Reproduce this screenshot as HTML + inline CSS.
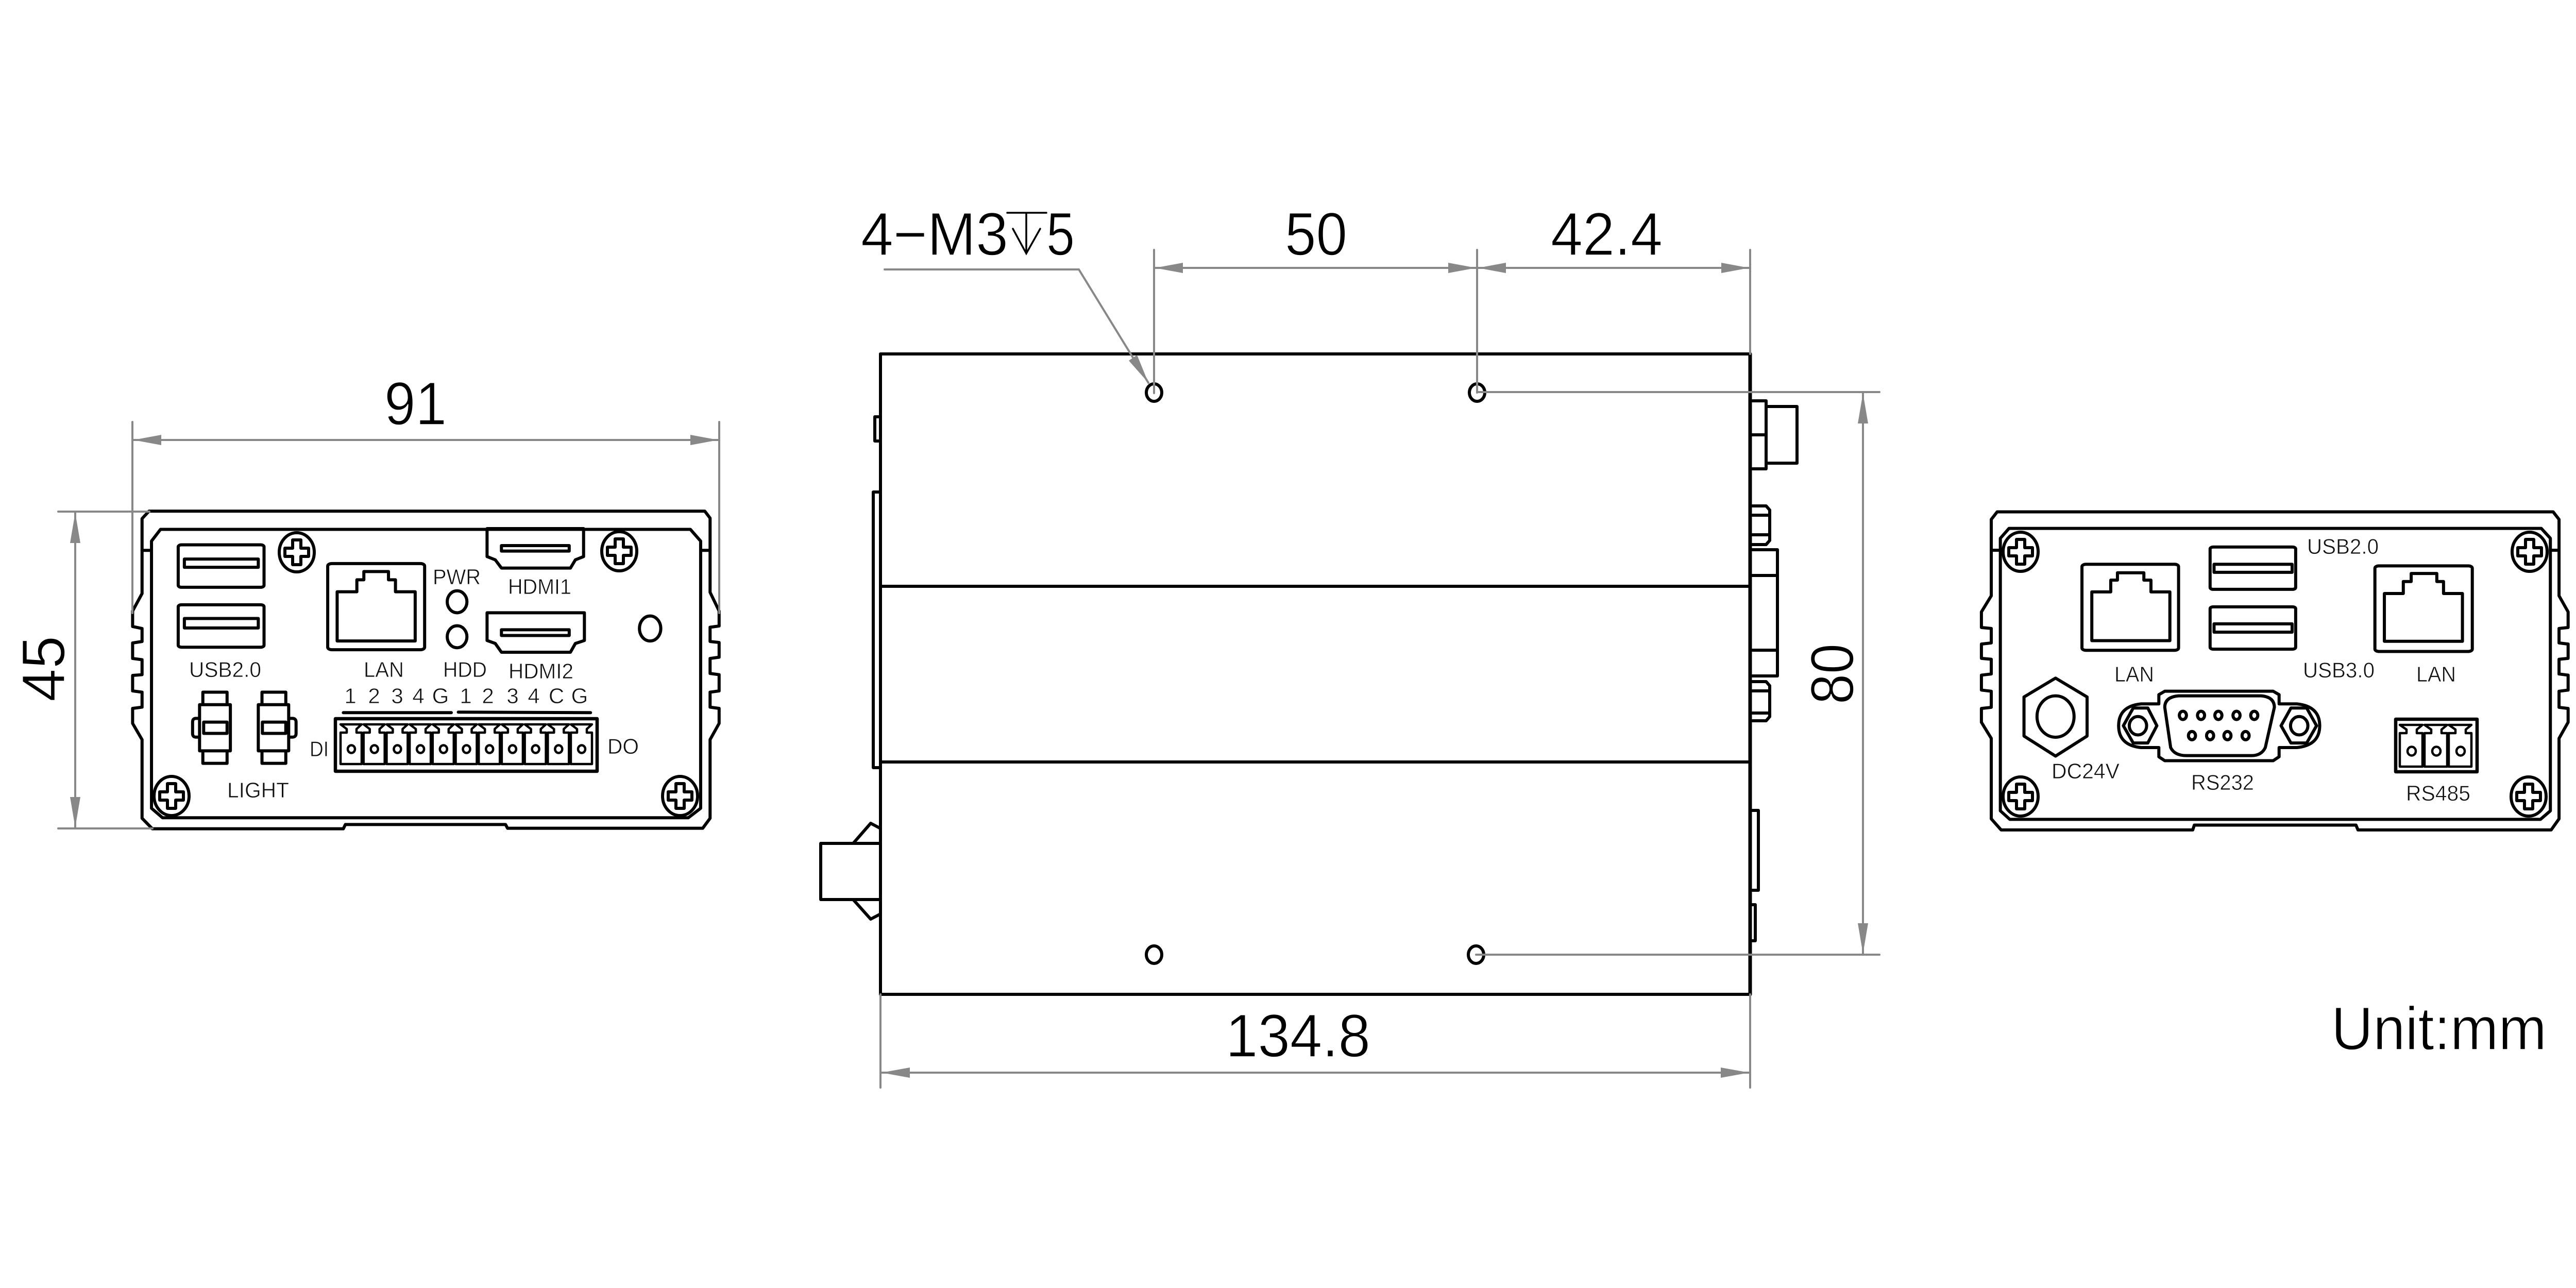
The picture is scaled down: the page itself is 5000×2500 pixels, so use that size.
<!DOCTYPE html>
<html><head><meta charset="utf-8"><title>Dimensions</title>
<style>
html,body{margin:0;padding:0;background:#fff}
svg{display:block}
svg *{vector-effect:non-scaling-stroke}
.k{fill:none;stroke:#000;stroke-width:6;stroke-linejoin:round;stroke-linecap:round}
.g{fill:none;stroke:#888;stroke-width:4;stroke-linecap:round}
.a{fill:#888;stroke:none}
text{font-family:"Liberation Sans",sans-serif;fill:#000}
.s{font-size:42px;fill:#111;stroke:#fff;stroke-width:.7}
.b{font-size:118px;stroke:#fff;stroke-width:1.5}
</style></head><body>
<svg width="5000" height="2500" viewBox="0 0 5000 2500" xmlns="http://www.w3.org/2000/svg">
<defs>
<g id="scr" class="k"><ellipse rx="34" ry="38" class="k"/><path class="k" d="M-8,-24H8V-8H23V8H8V24H-8V8H-23V-8H-8Z"/></g>
<g id="cell"><path class="k" style="stroke-width:4.5" d="M0,77V16H12V9L0,0H41L31,9V16H41V77Z"/><ellipse class="k" style="stroke-width:4.5" cx="21" cy="48" rx="7" ry="7.5"/></g>
<g id="cell2"><path class="k" style="stroke-width:4.5" d="M0,81V16H13V9L0,0H44L33,9V16H44V81Z"/><ellipse class="k" style="stroke-width:4.5" cx="23" cy="51" rx="8" ry="8.5"/></g>
</defs>
<rect width="5000" height="2500" fill="#fff"/>

<!-- LEFT PANEL -->
<g transform="translate(200,900) scale(.7972,.4847)">
<path class="k" d="M112,190H1465L1478,218V515L1500,590V650L1478,655V712L1500,716V775L1478,780V840L1500,845V910L1478,915V975L1500,980V1040L1478,1105V1420L1460,1460H985L980,1445H590L585,1462H120L95,1420V1105L72,1040V980L95,975V915L72,910V848L95,845V785L72,780V718L95,712V660L72,652V590L95,520V220Z"/>
<path class="k" d="M140,263H1430L1455,310V1380L1425,1418H145L118,1380V310Z"/>
<path class="k" d="M95,347H118M1455,347H1478"/>
<rect class="k" x="183" y="325" width="209" height="170" rx="8" ry="8"/>
<rect class="k" x="198" y="382" width="180" height="33"/>
<rect class="k" x="183" y="565" width="209" height="170" rx="8" ry="8"/>
<rect class="k" x="198" y="620" width="180" height="38"/>
<rect class="k" x="547" y="400" width="236" height="345" rx="10" ry="10"/>
<path class="k" d="M570,710V513H618V465H635V432H695V465H712V513H760V710Z"/>
<ellipse class="k" cx="862" cy="553" rx="24" ry="44"/>
<ellipse class="k" cx="862" cy="693" rx="24" ry="44"/>
<ellipse class="k" cx="1332" cy="660" rx="26" ry="50"/>
<path class="k" d="M935,260H1170V372L1150,385L1138,418H970L955,385L935,372Z"/>
<rect class="k" x="970" y="328" width="165" height="22"/>
<path class="k" d="M935,597H1172V708L1150,720L1138,755H970L955,720L935,708Z"/>
<rect class="k" x="970" y="665" width="165" height="23"/>
<path class="k" d="M243,965V915H302V965M235,965H310V1150H235ZM243,1150V1200H302V1150M245,1035H302V1080H245ZM235,1020H226Q218,1020 218,1035V1080Q218,1095 226,1095H235"/>
<path class="k" d="M387,965V915H445V965M378,965H452V1150H378ZM387,1150V1200H445V1150M388,1035H445V1080H388ZM452,1020H461Q470,1020 470,1035V1080Q470,1095 461,1095H452"/>
<path class="k" d="M585,997H848M865,995L1187,997"/>
</g>
<rect class="k" style="stroke-width:6.5" x="651" y="1395" width="508" height="102"/>
<use href="#cell" x="661" y="1406"/><use href="#cell" x="705.7" y="1406"/><use href="#cell" x="750.4" y="1406"/><use href="#cell" x="795.1" y="1406"/><use href="#cell" x="839.8" y="1406"/><use href="#cell" x="884.5" y="1406"/><use href="#cell" x="929.2" y="1406"/><use href="#cell" x="973.9" y="1406"/><use href="#cell" x="1018.6" y="1406"/><use href="#cell" x="1063.3" y="1406"/><use href="#cell" x="1108" y="1406"/>
<use href="#scr" x="576" y="1072"/><use href="#scr" x="1202" y="1070"/><use href="#scr" x="333" y="1545"/><use href="#scr" x="1320" y="1545"/>
<text class="s" x="840" y="1134" textLength="93" lengthAdjust="spacingAndGlyphs">PWR</text>
<text class="s" x="986" y="1153" textLength="123" lengthAdjust="spacingAndGlyphs">HDMI1</text>
<text class="s" x="367" y="1314" textLength="140" lengthAdjust="spacingAndGlyphs">USB2.0</text>
<text class="s" x="706" y="1314" textLength="78" lengthAdjust="spacingAndGlyphs">LAN</text>
<text class="s" x="860" y="1314" textLength="85" lengthAdjust="spacingAndGlyphs">HDD</text>
<text class="s" x="987" y="1317" textLength="126" lengthAdjust="spacingAndGlyphs">HDMI2</text>
<text class="s" x="601" y="1468" textLength="37" lengthAdjust="spacingAndGlyphs">DI</text>
<text class="s" x="1179" y="1463" textLength="61" lengthAdjust="spacingAndGlyphs">DO</text>
<text class="s" x="441" y="1548" textLength="120" lengthAdjust="spacingAndGlyphs">LIGHT</text>
<g text-anchor="middle">
<text class="s" x="680" y="1365">1</text><text class="s" x="726" y="1365">2</text><text class="s" x="771" y="1365">3</text><text class="s" x="812" y="1365">4</text><text class="s" x="855" y="1365">G</text><text class="s" x="904" y="1365">1</text><text class="s" x="947" y="1365">2</text><text class="s" x="995" y="1365">3</text><text class="s" x="1036" y="1365">4</text><text class="s" x="1080" y="1365">C</text><text class="s" x="1125" y="1365">G</text>
</g>

<!-- MIDDLE BODY -->
<rect class="k" x="1709" y="687" width="1688" height="1243"/>
<path class="k" d="M1709,1138H3397M1709,1479H3397"/>
<path class="k" d="M1709,809H1698V856H1709M1709,955H1695V1490H1709"/>
<path class="k" style="stroke-width:6" d="M1593,1637H1709V1746H1593ZM1656,1637L1690,1598L1709,1608M1656,1746L1690,1784L1709,1774"/>
<path class="k" d="M3397,778H3428V910H3397M3397,844H3428M3428,789H3488V899H3428"/>
<path class="k" d="M3397,982H3428L3435,990V1049L3428,1057H3397M3397,1000H3435M3397,1038H3435"/>
<path class="k" d="M3397,1067H3450V1312H3397M3397,1117H3450M3397,1262H3450"/>
<path class="k" d="M3397,1323H3428L3435,1331V1391L3428,1399H3397M3397,1341H3435M3397,1384H3435"/>
<path class="k" d="M3397,1573H3413V1728H3397M3397,1756H3407V1826H3397"/>
<ellipse class="k" cx="2240" cy="762" rx="15" ry="17"/>
<ellipse class="k" cx="2867" cy="762" rx="15" ry="17"/>
<ellipse class="k" cx="2240" cy="1853" rx="15" ry="17"/>
<ellipse class="k" cx="2865" cy="1853" rx="15" ry="17"/>
<path class="k" style="stroke-width:7" d="M3397,687V1930"/>
<path class="k" style="stroke-width:6" d="M1709,687V1930"/>

<!-- RIGHT PANEL -->
<g transform="translate(3800,960) scale(.7653,.4464)">
<path class="k" d="M100,75H1510L1525,108V440L1548,510V578L1525,582V645L1548,650V712L1525,716V780L1548,785V850L1525,855V925L1548,930V990L1525,1060V1410L1505,1458H1015L1010,1437H600L596,1458H110L85,1410V1060L60,990V930L85,925V855L60,850V785L85,780V716L60,712V650L85,645V582L60,578V510L85,440V108Z"/>
<path class="k" d="M130,147H1480L1503,190V1375L1478,1412H132L108,1375V190Z"/>
<path class="k" d="M85,242H108M1503,242H1525"/>
<rect class="k" x="315" y="303" width="245" height="374" rx="10" ry="10"/>
<path class="k" d="M340,635V423H388V372H405V340H472V372H490V423H538V635Z"/>
<rect class="k" x="1058" y="310" width="247" height="372" rx="10" ry="10"/>
<path class="k" d="M1082,638V430H1130V378H1150V343H1215V378H1232V430H1280V638Z"/>
<rect class="k" x="640" y="228" width="217" height="184" rx="8" ry="8"/>
<rect class="k" x="650" y="303" width="198" height="35"/>
<rect class="k" x="640" y="488" width="217" height="184" rx="8" ry="8"/>
<rect class="k" x="650" y="562" width="198" height="36"/>
<path class="k" d="M248,798L328,880V1050L248,1137L168,1050V880Z"/>
<ellipse class="k" cx="248" cy="965" rx="47" ry="90"/>
<path class="k" d="M525,855H800L815,870V910H860Q918,920 918,1005Q918,1090 860,1100H815V1140L800,1157H525L510,1140V1100H465Q408,1090 408,1005Q408,920 465,910H510V870Z"/>
<path class="k" d="M560,875H770Q803,880 803,925L780,1100Q770,1135 745,1135H580Q550,1135 540,1100L525,925Q525,880 560,875Z"/>
<path class="k" d="M445,928H482L505,1005L482,1080H445L420,1005Z"/>
<ellipse class="k" cx="457" cy="1005" rx="22" ry="40"/>
<path class="k" d="M845,928H885L910,1005L885,1080H845L820,1005Z"/>
<ellipse class="k" cx="866" cy="1005" rx="22" ry="40"/>
<ellipse class="k" cx="571" cy="960" rx="9" ry="18"/><ellipse class="k" cx="617" cy="960" rx="9" ry="18"/><ellipse class="k" cx="661" cy="960" rx="9" ry="18"/><ellipse class="k" cx="707" cy="960" rx="9" ry="18"/><ellipse class="k" cx="752" cy="960" rx="9" ry="18"/>
<ellipse class="k" cx="594" cy="1048" rx="9" ry="18"/><ellipse class="k" cx="640" cy="1048" rx="9" ry="18"/><ellipse class="k" cx="684" cy="1048" rx="9" ry="18"/><ellipse class="k" cx="730" cy="1048" rx="9" ry="18"/>
</g>
<rect class="k" style="stroke-width:6.5" x="4650" y="1396" width="158" height="102"/>
<use href="#cell2" x="4658" y="1407"/><use href="#cell2" x="4706" y="1407"/><use href="#cell2" x="4753" y="1407"/>
<use href="#scr" x="3922" y="1071"/><use href="#scr" x="4910" y="1071"/><use href="#scr" x="3922" y="1546"/><use href="#scr" x="4908" y="1546"/>
<text class="s" x="4478" y="1075" textLength="139" lengthAdjust="spacingAndGlyphs">USB2.0</text>
<text class="s" x="4470" y="1315" textLength="139" lengthAdjust="spacingAndGlyphs">USB3.0</text>
<text class="s" x="4104" y="1323" textLength="77" lengthAdjust="spacingAndGlyphs">LAN</text>
<text class="s" x="4690" y="1323" textLength="77" lengthAdjust="spacingAndGlyphs">LAN</text>
<text class="s" x="3982" y="1511" textLength="132" lengthAdjust="spacingAndGlyphs">DC24V</text>
<text class="s" x="4253" y="1533" textLength="122" lengthAdjust="spacingAndGlyphs">RS232</text>
<text class="s" x="4670" y="1554" textLength="125" lengthAdjust="spacingAndGlyphs">RS485</text>

<!-- DIMENSIONS -->
<path class="g" d="M257,819V1190M1396,819V1190M257,854H1396"/>
<polygon class="a" points="259,854 313,844 313,864"/><polygon class="a" points="1394,854 1340,844 1340,864"/>
<path class="g" d="M113,993H290M113,1608H296M146,993V1608"/>
<polygon class="a" points="146,995 136,1054 156,1054"/><polygon class="a" points="146,1606 136,1547 156,1547"/>
<path class="g" d="M2240,485V763M2867,485V762M3397,485V687M2240,520H3397"/>
<polygon class="a" points="2242,520 2296,510 2296,530"/><polygon class="a" points="2865,520 2811,510 2811,530"/><polygon class="a" points="2869,520 2923,510 2923,530"/><polygon class="a" points="3395,520 3341,510 3341,530"/>
<path class="g" d="M1717,523H2094L2229,743"/>
<polygon class="a" points="2229,743 2191,700 2207,689"/>
<path class="g" d="M2867,761H3648M2865,1853H3648M3616,761V1853"/>
<polygon class="a" points="3616,763 3606,822 3626,822"/><polygon class="a" points="3616,1851 3606,1792 3626,1792"/>
<path class="g" d="M1709,1930V2111M3397,1930V2111M1709,2082H3397"/>
<polygon class="a" points="1711,2082 1766,2072 1766,2092"/><polygon class="a" points="3395,2082 3340,2072 3340,2092"/>

<path fill="none" stroke="#000" stroke-width="3.5" stroke-linecap="round" d="M1955,413H2031M1992,413V492M1966,444L1992,492L2019,444"/>
<text class="b" x="1671" y="495" textLength="286" lengthAdjust="spacingAndGlyphs">4−M3</text>
<text class="b" x="2031" y="495" textLength="55" lengthAdjust="spacingAndGlyphs">5</text>
<text class="b" x="2494" y="495" textLength="121" lengthAdjust="spacingAndGlyphs">50</text>
<text class="b" x="3010" y="495" textLength="217" lengthAdjust="spacingAndGlyphs">42.4</text>
<text class="b" x="746" y="824" textLength="121" lengthAdjust="spacingAndGlyphs">91</text>
<text class="b" x="2379" y="2051" textLength="281" lengthAdjust="spacingAndGlyphs">134.8</text>
<text class="b" x="4525" y="2037" textLength="418" lengthAdjust="spacingAndGlyphs">Unit:mm</text>
<text class="b" transform="translate(125,1362) rotate(-90)" textLength="128" lengthAdjust="spacingAndGlyphs">45</text>
<text class="b" transform="translate(3597,1367) rotate(-90)" textLength="118" lengthAdjust="spacingAndGlyphs">80</text>
</svg>
</body></html>
